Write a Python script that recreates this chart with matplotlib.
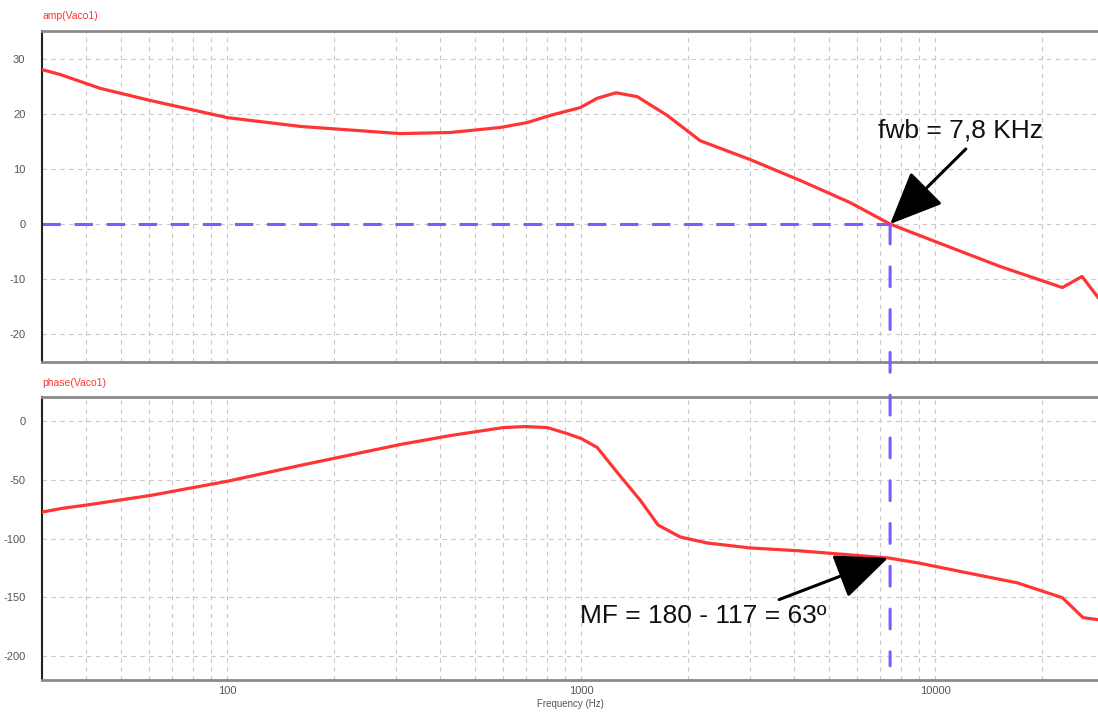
import numpy as np
import matplotlib
matplotlib.use("Agg")
import matplotlib.pyplot as plt
from matplotlib.patches import ConnectionPatch
from matplotlib.ticker import LogLocator, FixedLocator, NullFormatter

plt.rcParams['font.family'] = ['Liberation Sans', 'DejaVu Sans']
plt.rcParams['axes.unicode_minus'] = False

# amplitude (dB)
amp_freq = [30.0, 33.8, 43.8, 60.7, 100, 161, 308, 427, 590, 704, 818, 993, 1110,
            1255, 1440, 1750, 2170, 3000, 4160, 5750, 7460, 11020, 15280, 22870,
            26000, 28840]
amp_db = [28.0, 27.1, 24.6, 22.4, 19.3, 17.7, 16.4, 16.6, 17.5, 18.4, 19.7, 21.1, 22.8,
          23.8, 23.1, 19.7, 15.1, 11.7, 7.9, 3.9, 0.0, -4.2, -7.7, -11.5,
          -9.5, -13.3]

# phase (deg)
ph_freq = [30.0, 34.4, 39.9, 60.7, 100, 161, 308, 427, 603, 695, 802, 912, 1000,
           1110, 1264, 1468, 1650, 1904, 2270, 3000, 4160, 7360, 8950, 12300,
           17060, 22870, 26170, 28840]
ph_deg = [-77.6, -74.3, -71.7, -63.5, -51.5, -38.0, -20.3, -12.7, -5.9, -5.1, -5.9, -11.0, -15.2,
          -22.8, -43.9, -67.5, -88.6, -98.7, -103.8, -108.0, -110.5, -116.5, -120.7, -129.1,
          -137.6, -150.2, -167.1, -168.8]

fwb = 7460
fmin, fmax = 30.0, 28840

red = '#ff3535'
purple = '#7d5cff'
grid_kw = dict(color='#c8c8c8', linestyle=(0, (4, 4)), linewidth=0.8)

fig = plt.figure(figsize=(10.98, 7.17), dpi=100)
ax1 = fig.add_axes([0.0383, 0.4951, 0.9617, 0.4617])
ax2 = fig.add_axes([0.0383, 0.0516, 0.9617, 0.3947])

for ax in (ax1, ax2):
    ax.set_xscale('log')
    ax.set_xlim(fmin, fmax)
    ax.xaxis.set_major_locator(FixedLocator([100, 1000, 10000]))
    ax.xaxis.set_minor_locator(LogLocator(base=10, subs=np.arange(2, 10)))
    ax.xaxis.set_minor_formatter(NullFormatter())
    ax.grid(True, which='both', axis='x', **grid_kw)
    ax.grid(True, which='major', axis='y', **grid_kw)
    ax.tick_params(which='both', length=0, labelsize=8, labelcolor='#555555', pad=12)
    for s in ('top', 'bottom'):
        ax.spines[s].set_color('#8a8a8a')
        ax.spines[s].set_linewidth(2.0)
    ax.spines['left'].set_color('#222222')
    ax.spines['left'].set_linewidth(1.5)
    ax.spines['right'].set_visible(False)

ax1.set_ylim(-25, 35)
ax1.set_yticks([-20, -10, 0, 10, 20, 30])
ax1.tick_params(axis='x', labelbottom=False)
ax2.set_ylim(-220, 20)
ax2.set_yticks([-200, -150, -100, -50, 0])
ax2.tick_params(axis='x', pad=4)
ax2.set_xticklabels(['100', '1000', '10000'])
ax2.set_xlabel('Frequency (Hz)', fontsize=7, color='#555555', labelpad=2)

ax1.plot(amp_freq, amp_db, color=red, lw=2.3, zorder=3)
ax2.plot(ph_freq, ph_deg, color=red, lw=2.3, zorder=3)

ax1.text(0.0, 1.035, 'amp(Vaco1)', transform=ax1.transAxes, color=red, fontsize=7.5)
ax2.text(0.0, 1.04, 'phase(Vaco1)', transform=ax2.transAxes, color=red, fontsize=7.5)

# crossover lines
ax1.plot([fmin, fwb], [0, 0], color=purple, lw=2.2, linestyle=(0, (6, 4.5)), zorder=2)
con = ConnectionPatch(xyA=(fwb, 0), coordsA=ax1.transData, xyB=(fwb, -208), coordsB=ax2.transData,
                      color=purple, lw=2.2, linestyle=(0, (6.5, 7.5)), zorder=2)
fig.add_artist(con)

arrow = dict(arrowstyle='-|>,head_length=1.5,head_width=0.65', color='black', lw=2.2,
             shrinkA=4, shrinkB=0, mutation_scale=22)
ax1.annotate('fwb = 7,8 KHz', xy=(fwb, 0), xytext=(11770, 17),
             fontsize=19, ha='center', va='center', color='#111111',
             arrowprops=dict(arrow, relpos=(0.575, 0.0)), zorder=5)
ax2.annotate('MF = 180 - 117 = 63º', xy=(7360, -116.5), xytext=(993, -166),
             fontsize=19, ha='left', va='center', color='#111111',
             arrowprops=dict(arrow, relpos=(0.757, 1.0)), zorder=5)

fig.savefig('out.png', dpi=100)
